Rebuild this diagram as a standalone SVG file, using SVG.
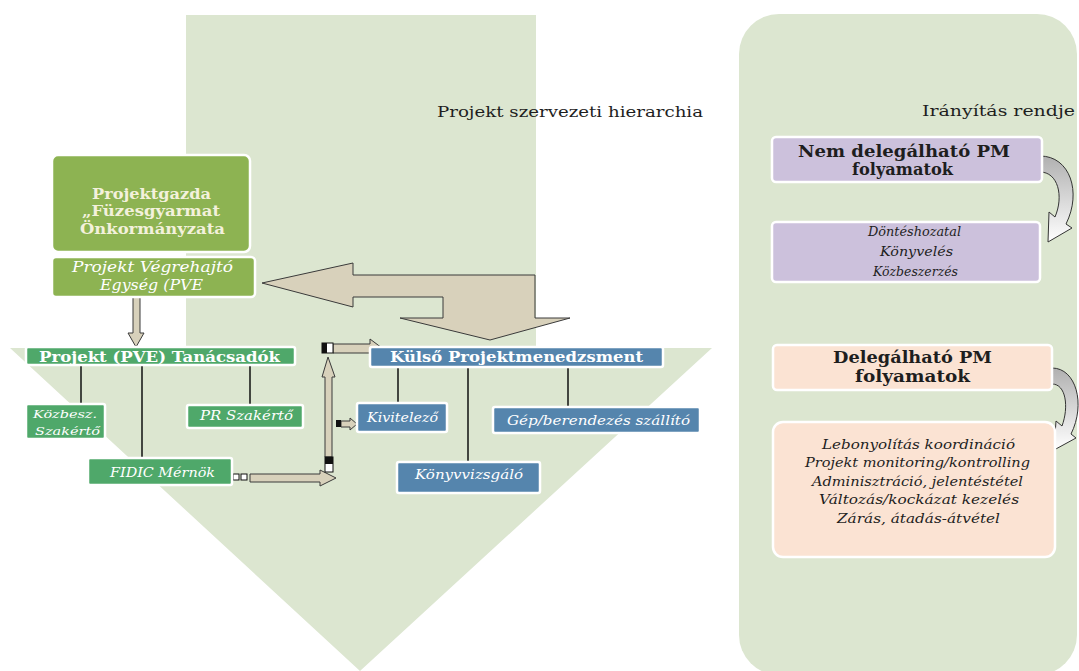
<svg xmlns="http://www.w3.org/2000/svg" width="1079" height="671" viewBox="0 0 1079 671">
<defs>
<style>
.bg{fill:#dce6d0}
.box{stroke:#ffffff;stroke-width:2.5}
.olive{fill:#8db352}
.green{fill:#4fa86a}
.blue{fill:#5585ad}
.purple{fill:#ccc1dc}
.peach{fill:#fbe3d3}
.wt{fill:#ffffff;font-family:"DejaVu Serif","Liberation Serif",serif}
.ct{fill:#f3f1dc;font-family:"DejaVu Serif","Liberation Serif",serif;font-weight:bold;font-size:14px}
.bt{font-weight:bold}
.it{font-style:italic}
.dk{fill:#1e1e1e;font-family:"DejaVu Serif","Liberation Serif",serif}
.ln{stroke:#111;stroke-width:1.5;fill:none}
.arr{fill:#d8d1bb;stroke:#3a3a3a;stroke-width:1}
.cur{fill:url(#cg);stroke:#333;stroke-width:1}
.sq{fill:#fff;stroke:#111;stroke-width:1}
</style>
<linearGradient id="cg" x1="0" y1="0" x2="0" y2="1">
<stop offset="0" stop-color="#b0b0b0"/>
<stop offset="1" stop-color="#ffffff"/>
</linearGradient>
</defs>
<rect width="1079" height="671" fill="#ffffff"/>
<g id="backdrop">
<polygon class="bg" points="186,15 536,15 536,348 712,348 360,671 10,348 186,348"/>
<rect class="bg" x="739" y="14" width="338" height="661" rx="40"/>
<text class="dk" x="437" y="117" font-size="15" textLength="266" lengthAdjust="spacingAndGlyphs">Projekt szervezeti hierarchia</text>
<text class="dk" x="922" y="116" font-size="15" textLength="153" lengthAdjust="spacingAndGlyphs">Irányítás rendje</text>
</g>
<g id="connectors">
<polygon class="arr" points="262,283 353,263 353,275 535,275 535,318 570,318 490,340 400,318 443,318 443,297 353,297 353,307"/>
<polygon class="arr" points="133,297 140,297 140,333 144,333 136,347 128,333 133,333"/>
<line class="ln" x1="81" y1="365" x2="81" y2="404"/>
<line class="ln" x1="142" y1="365" x2="142" y2="458"/>
<line class="ln" x1="250" y1="365" x2="250" y2="405"/>
<line class="ln" x1="398" y1="367" x2="398" y2="403"/>
<line class="ln" x1="468" y1="367" x2="468" y2="462"/>
<line class="ln" x1="568" y1="367" x2="568" y2="407"/>
<rect class="sq" x="233" y="474" width="6" height="6"/>
<rect class="sq" x="241" y="474" width="6" height="6"/>
<polygon class="arr" points="250,474 320,474 320,470 336,478 320,486 320,482 250,482"/>
<polygon class="arr" points="325,457 325,377 322,377 328,357 335,377 332,377 332,457"/>
<rect class="sq" x="325" y="457" width="8" height="15"/>
<rect x="325" y="457" width="8" height="7" fill="#111"/>
<polygon class="arr" points="333,344 370,344 370,339 382,348 370,357 370,353 333,353"/>
<rect class="sq" x="322" y="343" width="11" height="10"/>
<rect x="322" y="343" width="5" height="10" fill="#111"/>
<polygon class="arr" points="341,421 350,421 350,418 357,424 350,430 350,427 341,427"/>
<rect x="336" y="420" width="5" height="7" fill="#111"/>
<path class="cur" d="M1040,156 C1070,156 1082,192 1066,224 L1072,228 L1048,242 L1049,212 L1055,217 C1064,196 1058,172 1040,172 Z"/>
<path class="cur" d="M1052,368 C1076,368 1086,404 1071,434 L1076,438 L1054,450 L1056,421 L1062,426 C1069,407 1066,384 1052,384 Z"/>
</g>
<g id="projektgazda">
<rect class="box olive" x="52" y="155" width="198" height="97" rx="6"/>
<text class="ct" x="92" y="199" textLength="119" lengthAdjust="spacingAndGlyphs">Projektgazda</text>
<text class="ct" x="82" y="216" textLength="138" lengthAdjust="spacingAndGlyphs">„Füzesgyarmat</text>
<text class="ct" x="80" y="234" textLength="145" lengthAdjust="spacingAndGlyphs">Önkormányzata</text>
</g>
<g id="pve">
<rect class="box olive" x="52" y="257" width="203" height="40" rx="4"/>
<text class="wt it" x="72" y="272" font-size="14" textLength="161" lengthAdjust="spacingAndGlyphs">Projekt  Végrehajtó</text>
<text class="wt it" x="100" y="290" font-size="14" textLength="103" lengthAdjust="spacingAndGlyphs">Egység (PVE</text>
</g>
<g id="tanacsadok">
<rect class="box green" x="26" y="347" width="269" height="18" rx="2"/>
<text class="wt bt" x="39" y="362" font-size="14" textLength="241" lengthAdjust="spacingAndGlyphs">Projekt  (PVE) Tanácsadók</text>
</g>
<g id="kozbesz">
<rect class="box green" x="26" y="404" width="79" height="35" rx="2"/>
<text class="wt it" x="33" y="418" font-size="11" textLength="64" lengthAdjust="spacingAndGlyphs">Közbesz.</text>
<text class="wt it" x="35" y="435" font-size="11" textLength="65" lengthAdjust="spacingAndGlyphs">Szakértő</text>
</g>
<g id="pr">
<rect class="box green" x="187" y="405" width="116" height="23" rx="2"/>
<text class="wt it" x="200" y="420" font-size="12" textLength="93" lengthAdjust="spacingAndGlyphs">PR Szakértő</text>
</g>
<g id="fidic">
<rect class="box green" x="88" y="458" width="144" height="27" rx="2"/>
<text class="wt it" x="110" y="477" font-size="12" textLength="105" lengthAdjust="spacingAndGlyphs">FIDIC Mérnök</text>
</g>
<g id="kulso">
<rect class="box blue" x="370" y="347" width="293" height="20" rx="2"/>
<text class="wt bt" x="390" y="362" font-size="15" textLength="253" lengthAdjust="spacingAndGlyphs">Külső Projektmenedzsment</text>
</g>
<g id="kivitelezo">
<rect class="box blue" x="357" y="403" width="90" height="29" rx="2"/>
<text class="wt it" x="367" y="422" font-size="12" textLength="71" lengthAdjust="spacingAndGlyphs">Kivitelező</text>
</g>
<g id="gep">
<rect class="box blue" x="493" y="407" width="207" height="26" rx="2"/>
<text class="wt it" x="507" y="425" font-size="12" textLength="183" lengthAdjust="spacingAndGlyphs">Gép/berendezés szállító</text>
</g>
<g id="konyvvizsgalo">
<rect class="box blue" x="397" y="462" width="143" height="31" rx="2"/>
<text class="wt it" x="415" y="479" font-size="12" textLength="108" lengthAdjust="spacingAndGlyphs">Könyvvizsgáló</text>
</g>
<g id="nemdeleg">
<rect class="box purple" x="772" y="137" width="270" height="45" rx="4"/>
<text class="dk bt" x="798" y="157" font-size="16" textLength="212" lengthAdjust="spacingAndGlyphs">Nem delegálható PM</text>
<text class="dk bt" x="852" y="175" font-size="16" textLength="101" lengthAdjust="spacingAndGlyphs">folyamatok</text>
</g>
<g id="nemdeleg-lista">
<rect class="box purple" x="772" y="222" width="268" height="60" rx="4"/>
<text class="dk it" x="868" y="236" font-size="12" textLength="93" lengthAdjust="spacingAndGlyphs">Döntéshozatal</text>
<text class="dk it" x="880" y="256" font-size="12" textLength="73" lengthAdjust="spacingAndGlyphs">Könyvelés</text>
<text class="dk it" x="873" y="276" font-size="12" textLength="85" lengthAdjust="spacingAndGlyphs">Közbeszerzés</text>
</g>
<g id="deleg">
<rect class="box peach" x="773" y="345" width="279" height="45" rx="4"/>
<text class="dk bt" x="833" y="363" font-size="16" textLength="159" lengthAdjust="spacingAndGlyphs">Delegálható PM</text>
<text class="dk bt" x="855" y="382" font-size="16" textLength="115" lengthAdjust="spacingAndGlyphs">folyamatok</text>
</g>
<g id="deleg-lista">
<rect class="box peach" x="773" y="422" width="282" height="135" rx="10"/>
<text class="dk it" x="822" y="449" font-size="12" textLength="193" lengthAdjust="spacingAndGlyphs">Lebonyolítás koordináció</text>
<text class="dk it" x="805" y="467" font-size="12" textLength="225" lengthAdjust="spacingAndGlyphs">Projekt monitoring/kontrolling</text>
<text class="dk it" x="812" y="486" font-size="12" textLength="211" lengthAdjust="spacingAndGlyphs">Adminisztráció, jelentéstétel</text>
<text class="dk it" x="819" y="504" font-size="12" textLength="200" lengthAdjust="spacingAndGlyphs">Változás/kockázat kezelés</text>
<text class="dk it" x="837" y="523" font-size="12" textLength="163" lengthAdjust="spacingAndGlyphs">Zárás, átadás-átvétel</text>
</g>
</svg>
